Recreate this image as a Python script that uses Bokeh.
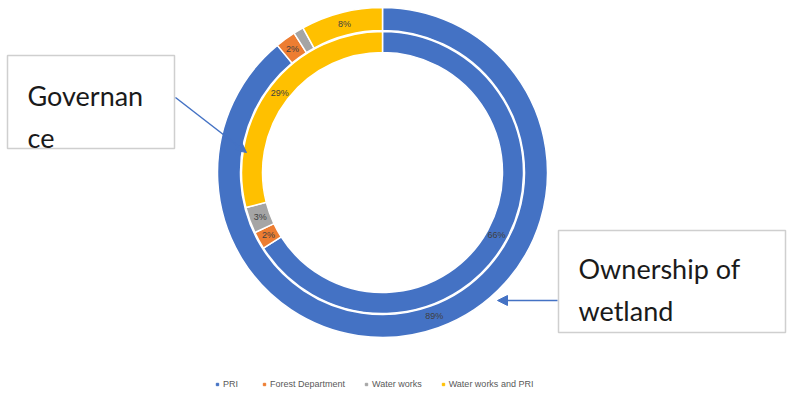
import numpy as np
from bokeh.plotting import figure
from bokeh.models import (ColumnDataSource, Range1d, Arrow, NormalHead, Label,
                          Legend, LegendItem)
from bokeh.embed import file_html
from bokeh.resources import INLINE
from bokeh.core.properties import value

# ---- data ----
categories = ["PRI", "Forest Department", "Water works", "Water works and PRI"]
colors = ["#4472C4", "#ED7D31", "#A5A5A5", "#FFC000"]
ownership = [89, 2, 1, 8]      # outer ring
governance = [66, 2, 3, 29]    # inner ring
box_texts_gov = ["Governan", "ce"]
box_texts_own = ["Ownership of", "wetland"]

W, H = 794, 394
p = figure(width=W, height=H, output_backend="svg", toolbar_location=None,
           x_axis_type=None, y_axis_type=None, min_border=0,
           x_range=Range1d(0, W), y_range=Range1d(0, H))
p.outline_line_color = None
p.grid.visible = False
p.background_fill_color = "white"

cx, cy = 382, 222


def ring(vals, r_in, r_out, label_r):
    v = np.array(vals, dtype=float)
    frac = v / v.sum()
    cum = np.concatenate([[0], np.cumsum(frac)])
    start = np.pi / 2 - 2 * np.pi * cum[:-1]
    end = np.pi / 2 - 2 * np.pi * cum[1:]
    mid = (start + end) / 2
    src = ColumnDataSource(dict(start=start, end=end, color=colors,
                                cat=categories))
    p.annular_wedge(x=cx, y=cy, inner_radius=r_in, outer_radius=r_out,
                    start_angle="start", end_angle="end", direction="clock",
                    fill_color="color", line_color="white", line_width=1.5,
                    source=src)
    labs = [f"{int(x)}%" if x >= 2 else "" for x in v]
    lsrc = ColumnDataSource(dict(x=cx + label_r * np.cos(mid),
                                 y=cy + label_r * np.sin(mid), t=labs))
    p.text(x="x", y="y", text="t", source=lsrc, text_align="center",
           text_baseline="middle", text_font=value("Liberation Sans"),
           text_font_size="9px", text_color="#404040")


ring(ownership, 142, 165, 153)
ring(governance, 120, 141, 130)

# ---- callout boxes ----
p.quad(left=[7, 558], right=[174, 785], bottom=[H - 148, H - 332],
       top=[H - 55, H - 230], fill_color="white", line_color="#cfcfcf",
       line_width=1.5)

for i, t in enumerate(box_texts_gov):
    p.add_layout(Label(x=27, y=H - 95 - 42 * i, text=t,
                       text_font="Lato", text_font_size="27px",
                       text_color="#1a1a1a", text_baseline="alphabetic"))
for i, t in enumerate(box_texts_own):
    p.add_layout(Label(x=578, y=H - 268 - 42 * i, text=t,
                       text_font="Lato", text_font_size="27px",
                       text_color="#1a1a1a", text_baseline="alphabetic"))

p.add_layout(Arrow(end=NormalHead(size=10, fill_color="#4472C4",
                                  line_color="#4472C4"),
                   x_start=175, y_start=H - 97, x_end=246, y_end=H - 152,
                   line_color="#4472C4", line_width=1.5))
p.add_layout(Arrow(end=NormalHead(size=10, fill_color="#4472C4",
                                  line_color="#4472C4"),
                   x_start=557, y_start=H - 300, x_end=497, y_end=H - 300,
                   line_color="#4472C4", line_width=1.5))

# ---- legend ----
items = []
for c, name in zip(colors, categories):
    r = p.scatter(x=[np.nan], y=[np.nan], marker="square", size=5,
                  fill_color=c, line_color=c)
    items.append(LegendItem(label=name, renderers=[r]))
legend = Legend(items=items, orientation="horizontal", location=(214, 5),
                glyph_width=6, glyph_height=10, label_standoff=3, spacing=18,
                padding=0, margin=0, border_line_color=None,
                background_fill_alpha=0, label_text_font_size="9px",
                label_text_font="Liberation Sans", label_text_color="#595959",
                label_height=10)
p.add_layout(legend, "center")

open("out.html", "w").write(file_html(p, INLINE))
